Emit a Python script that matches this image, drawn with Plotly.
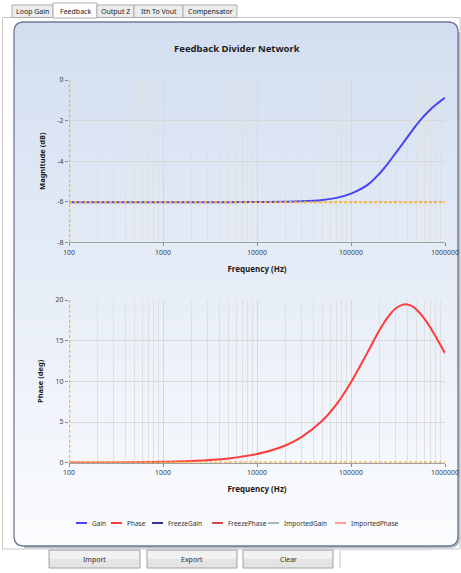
import plotly.graph_objects as go

# ---------------- data ----------------
freq_hz = [100, 200, 500, 1000, 2000, 5000, 10000, 20000, 30000, 50000, 70000,
           100000, 150000, 200000, 250000, 300000, 350000, 400000, 450000,
           500000, 600000, 700000, 800000, 900000, 1000000]
gain_db = [-6.02, -6.02, -6.02, -6.02, -6.02, -6.02, -6.016, -6.002, -5.98, -5.91, -5.81,
           -5.60, -5.17, -4.62, -4.08, -3.59, -3.17, -2.80, -2.48,
           -2.20, -1.77, -1.45, -1.22, -1.03, -0.88]
phase_deg = [0.01, 0.02, 0.05, 0.11, 0.21, 0.53, 1.06, 2.12, 3.17, 5.22, 7.17,
             9.9, 13.56, 16.25, 17.98, 18.98, 19.40, 19.45, 19.22,
             18.81, 17.75, 16.6, 15.45, 14.4, 13.45]

# overlay (cursor / reference) lines shown dashed orange
ref_freq = [100, 1000000]
ref_gain = [-6.02, -6.02]
ref_phase = [0, 0]
cursor_freq = [100, 100]
cursor_gain = [-8, 0]
cursor_phase = [0, 20]

# empty comparison series
freeze_gain = []
freeze_phase = []
imported_gain = []
imported_phase = []

freq_tick_vals = [100, 1000, 10000, 100000, 1000000]
freq_tick_labels = ["100", "1000", "10000", "100000", "1000000"]
mag_tick_vals = [0, -2, -4, -6, -8]
mag_tick_labels = ["0", "-2", "-4", "-6", "-8"]
phase_tick_vals = [0, 5, 10, 15, 20]
phase_tick_labels = ["0", "5", "10", "15", "20"]

tab_names = ["Loop Gain", "Feedback", "Output Z", "Ith To Vout", "Compensator"]
button_names = ["Import", "Export", "Clear"]
legend_names = ["Gain", "Phase", "FreezeGain", "FreezePhase", "ImportedGain", "ImportedPhase"]

# ---------------- style ----------------
W, H = 461, 573
FONT = "Noto Sans"
C_GAIN = "#4646f5"
C_PHASE = "#ff3c3c"
C_FGAIN = "#34349e"
C_FPHASE = "#cf4a4a"
C_IGAIN = "#a9b4c6"
C_IPHASE = "#ff9c9c"
C_ORANGE = "#f6b43c"
C_GRID = "rgb(216,216,216)"
C_MINOR = "rgb(224,224,224)"
legend_colors = [C_GAIN, C_PHASE, C_FGAIN, C_FPHASE, C_IGAIN, C_IPHASE]


def px(x):
    return x / W


def py(y):
    return 1 - y / H


def P(x, y):
    return f"{px(x):.5f},{py(y):.5f}"


minor_vals = [m * 10 ** e for e in range(2, 6) for m in range(2, 10)]

fig = go.Figure()

# top: magnitude
fig.add_trace(go.Scatter(x=freq_hz, y=gain_db, name="Gain", mode="lines",
                         line=dict(color=C_GAIN, width=2, shape="spline", smoothing=1.0),
                         xaxis="x", yaxis="y", showlegend=False))
fig.add_trace(go.Scatter(x=freeze_gain, y=freeze_gain, name="FreezeGain", mode="lines",
                         line=dict(color=C_FGAIN, width=2), xaxis="x", yaxis="y", showlegend=False))
fig.add_trace(go.Scatter(x=imported_gain, y=imported_gain, name="ImportedGain", mode="lines",
                         line=dict(color=C_IGAIN, width=2), xaxis="x", yaxis="y", showlegend=False))
fig.add_trace(go.Scatter(x=ref_freq, y=ref_gain, mode="lines", showlegend=False,
                         line=dict(color=C_ORANGE, width=2, dash="3px,2px"),
                         xaxis="x", yaxis="y"))
fig.add_trace(go.Scatter(x=cursor_freq, y=cursor_gain, mode="lines", showlegend=False,
                         line=dict(color=C_ORANGE, width=2.5, dash="3px,2px"),
                         xaxis="x", yaxis="y"))

# bottom: phase
fig.add_trace(go.Scatter(x=freq_hz, y=phase_deg, name="Phase", mode="lines",
                         line=dict(color=C_PHASE, width=2, shape="spline", smoothing=1.0),
                         xaxis="x2", yaxis="y2", showlegend=False))
fig.add_trace(go.Scatter(x=freeze_phase, y=freeze_phase, name="FreezePhase", mode="lines",
                         line=dict(color=C_FPHASE, width=2), xaxis="x2", yaxis="y2", showlegend=False))
fig.add_trace(go.Scatter(x=imported_phase, y=imported_phase, name="ImportedPhase", mode="lines",
                         line=dict(color=C_IPHASE, width=2), xaxis="x2", yaxis="y2", showlegend=False))
fig.add_trace(go.Scatter(x=ref_freq, y=ref_phase, mode="lines", showlegend=False,
                         line=dict(color=C_ORANGE, width=2.5, dash="3px,2px"),
                         xaxis="x2", yaxis="y2"))
fig.add_trace(go.Scatter(x=cursor_freq, y=cursor_phase, mode="lines", showlegend=False,
                         line=dict(color=C_ORANGE, width=2.5, dash="3px,2px"),
                         xaxis="x2", yaxis="y2"))

tickfont = dict(family=FONT, size=7, color="#404040")
titlefont = dict(family=FONT, size=7.5, color="#1a1a1a", weight="bold")


def xaxis_cfg(anchor):
    return dict(type="log", range=[2, 6], domain=[px(69), px(445)], anchor=anchor,
                tickmode="array", tickvals=freq_tick_vals, ticktext=freq_tick_labels,
                ticks="outside", ticklen=3, tickcolor="#8a8a8a", tickfont=tickfont,
                showgrid=True, gridcolor=C_GRID, gridwidth=1, griddash="solid",
                minor=dict(tickmode="array", tickvals=minor_vals, showgrid=True,
                           gridcolor=C_MINOR, gridwidth=1, griddash="solid", ticks=""),
                showline=True, linecolor="#a0a0a0", linewidth=1, zeroline=False,
                title=dict(text="Frequency (Hz)", font=dict(family=FONT, size=8, color="#1a1a1a", weight="bold"),
                           standoff=10),
                automargin=False)


def yaxis_cfg(anchor, rng, vals, labels, dom, title):
    return dict(range=rng, domain=dom, anchor=anchor,
                tickmode="array", tickvals=vals, ticktext=labels,
                ticks="outside", ticklen=3, tickcolor="#8a8a8a", tickfont=tickfont,
                showgrid=True, gridcolor=C_GRID, gridwidth=1,
                showline=False, zeroline=False,
                title=dict(text=title, font=titlefont, standoff=10),
                automargin=False)


# ---------------- chrome shapes ----------------
shapes = []
annotations = []

# tab page frame
shapes.append(dict(type="rect", xref="paper", yref="paper", layer="below",
                   x0=px(2.5), x1=px(460), y0=py(549), y1=py(17.5),
                   line=dict(color="#c6c6c6", width=1), fillcolor="#ffffff"))

# panel gradient
x0p, x1p, y0p, y1p, r = 14, 458, 22, 546, 10
top_c = (210, 222, 240)
bot_c = (251, 252, 254)
nb = 60
for i in range(nb):
    t = (i + 0.5) / nb
    c = tuple(round(top_c[k] + (bot_c[k] - top_c[k]) * t) for k in range(3))
    ya = y0p + (y1p - y0p) * i / nb
    yb = y0p + (y1p - y0p) * (i + 1) / nb + 0.6
    shapes.append(dict(type="rect", xref="paper", yref="paper", layer="below",
                       x0=px(x0p), x1=px(x1p), y0=py(min(yb, y1p)), y1=py(ya),
                       line=dict(width=0), fillcolor="rgb(%d,%d,%d)" % c))
# corner masks
for (cx, cy, sx, sy) in [(x0p, y0p, 1, 1), (x1p, y0p, -1, 1), (x0p, y1p, 1, -1), (x1p, y1p, -1, -1)]:
    path = f"M{P(cx, cy)} L{P(cx + sx * r, cy)} Q{P(cx, cy)} {P(cx, cy + sy * r)} Z"
    shapes.append(dict(type="path", xref="paper", yref="paper", layer="below", path=path,
                       fillcolor="#ffffff", line=dict(width=0)))
# shadow (bottom/right)
shadow = (f"M{P(x1p + 1, y0p + r)} L{P(x1p + 1, y1p - r + 1)} Q{P(x1p + 1, y1p + 1)} {P(x1p - r + 1, y1p + 1)} "
          f"L{P(x0p + r, y1p + 1)}")
shapes.append(dict(type="path", xref="paper", yref="paper", layer="below", path=shadow,
                   line=dict(color="#b8bec8", width=2.5)))
border = (f"M{P(x0p + r, y0p)} L{P(x1p - r, y0p)} Q{P(x1p, y0p)} {P(x1p, y0p + r)} "
          f"L{P(x1p, y1p - r)} Q{P(x1p, y1p)} {P(x1p - r, y1p)} "
          f"L{P(x0p + r, y1p)} Q{P(x0p, y1p)} {P(x0p, y1p - r)} "
          f"L{P(x0p, y0p + r)} Q{P(x0p, y0p)} {P(x0p + r, y0p)} Z")
shapes.append(dict(type="path", xref="paper", yref="paper", layer="below", path=border,
                   line=dict(color="#6f7c92", width=1.3)))

# tabs
tab_edges = [12, 53, 97, 134, 183, 237]
for i, name in enumerate(tab_names):
    a, b = tab_edges[i], tab_edges[i + 1]
    sel = (i == 1)
    shapes.append(dict(type="rect", xref="paper", yref="paper", layer="below",
                       x0=px(a), x1=px(b), y0=py(18 if sel else 17.5), y1=py(3 if sel else 5),
                       line=dict(color="#adadad", width=1),
                       fillcolor="#ffffff" if sel else "#ececec"))
    annotations.append(dict(text=name, x=px((a + b) / 2), y=py(11 if sel else 11.5), xref="paper", yref="paper",
                            showarrow=False, xanchor="center", yanchor="middle",
                            font=dict(family=FONT, size=7, color="#222222")))
# line under tabs
shapes.append(dict(type="line", xref="paper", yref="paper", layer="below",
                   x0=px(237), x1=px(460), y0=py(17.5), y1=py(17.5),
                   line=dict(color="#c6c6c6", width=1)))

# buttons
btn_edges = [(49, 140), (147, 237), (243, 333)]
for name, (a, b) in zip(button_names, btn_edges):
    shapes.append(dict(type="rect", xref="paper", yref="paper", layer="below",
                       x0=px(a), x1=px(b), y0=py(568), y1=py(550),
                       line=dict(color="#a4a4a4", width=1), fillcolor="#e4e4e4"))
    shapes.append(dict(type="rect", xref="paper", yref="paper", layer="below",
                       x0=px(a + 1), x1=px(b - 1), y0=py(559), y1=py(551),
                       line=dict(width=0), fillcolor="#f1f1f1"))
    annotations.append(dict(text=name, x=px((a + b) / 2), y=py(559), xref="paper", yref="paper",
                            showarrow=False, xanchor="center", yanchor="middle",
                            font=dict(family=FONT, size=7, color="#333333")))
# text box
shapes.append(dict(type="line", xref="paper", yref="paper", layer="below",
                   x0=px(340), x1=px(340), y0=py(568), y1=py(550),
                   line=dict(color="#c4c4c4", width=1)))
shapes.append(dict(type="line", xref="paper", yref="paper", layer="below",
                   x0=px(340), x1=px(430), y0=py(550), y1=py(550),
                   line=dict(color="#e0e0e0", width=1)))

# legend (drawn as chrome)
leg_x = [76, 111, 152, 212, 268, 335]
for name, col, lx in zip(legend_names, legend_colors, leg_x):
    shapes.append(dict(type="line", xref="paper", yref="paper", layer="above",
                       x0=px(lx), x1=px(lx + 11), y0=py(523), y1=py(523),
                       line=dict(color=col, width=2)))
    annotations.append(dict(text=name, x=px(lx + 13.5), y=py(523), xref="paper", yref="paper",
                            showarrow=False, xanchor="left", yanchor="middle",
                            font=dict(family=FONT, size=6.5, color="#333333")))

# title
annotations.append(dict(text="<b>Feedback Divider Network</b>", x=px(237), y=py(49), xref="paper", yref="paper",
                        showarrow=False, xanchor="center", yanchor="middle",
                        font=dict(family=FONT, size=9.5, color="#222222")))

fig.update_layout(
    width=W, height=H,
    margin=dict(l=0, r=0, t=0, b=0),
    paper_bgcolor="#ffffff", plot_bgcolor="#ffffff",
    showlegend=False,
    xaxis=xaxis_cfg("y"),
    yaxis=yaxis_cfg("x", [-8, 0], mag_tick_vals, mag_tick_labels, [py(242.3), py(80)], "Magnitude (dB)"),
    xaxis2=xaxis_cfg("y2"),
    yaxis2=yaxis_cfg("x2", [0, 20], phase_tick_vals, phase_tick_labels, [py(462.7), py(300)], "Phase (deg)"),
    shapes=shapes,
    annotations=annotations,
)

fig.write_html("out.html",
               config={"displayModeBar": False},
               post_script="document.body.style.margin='0';document.body.style.padding='0';"
                           "document.documentElement.style.overflow='hidden';")
